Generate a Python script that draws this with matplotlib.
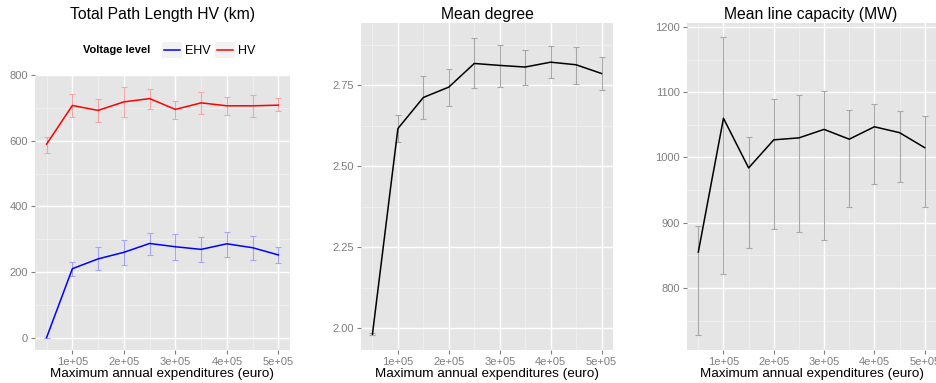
import matplotlib
matplotlib.use("Agg")
import matplotlib.pyplot as plt
from matplotlib.lines import Line2D
from matplotlib.patches import Rectangle
from matplotlib.ticker import FixedLocator, FuncFormatter

plt.rcParams['font.family'] = ['Liberation Sans', 'DejaVu Sans']

# budget levels (euro)
budget = [5e4, 1e5, 1.5e5, 2e5, 2.5e5, 3e5, 3.5e5, 4e5, 4.5e5, 5e5]

# total path length (km)
hv_len = [590, 708, 693, 719, 729, 696, 716, 707, 707, 709]
hv_lo = [564, 674, 658, 674, 697, 668, 683, 680, 674, 690]
hv_hi = [613, 742, 727, 763, 759, 722, 749, 734, 739, 730]
ehv_len = [0, 210, 240, 260, 287, 277, 269, 286, 274, 252]
ehv_lo = [0, 188, 205, 220, 253, 236, 229, 247, 238, 228]
ehv_hi = [0, 231, 277, 299, 319, 317, 308, 322, 309, 276]

# mean degree
deg = [1.981, 2.616, 2.712, 2.744, 2.817, 2.811, 2.806, 2.821, 2.813, 2.786]
deg_lo = [1.978, 2.573, 2.645, 2.685, 2.740, 2.744, 2.752, 2.773, 2.755, 2.735]
deg_hi = [1.983, 2.657, 2.778, 2.801, 2.895, 2.874, 2.858, 2.870, 2.867, 2.836]

# mean line capacity (MW)
cap = [855, 1060, 984, 1027, 1030, 1043, 1028, 1047, 1038, 1015]
cap_lo = [728, 821, 862, 890, 886, 874, 924, 959, 963, 924]
cap_hi = [895, 1184, 1032, 1089, 1095, 1102, 1073, 1082, 1071, 1063]

BG = '#E5E5E5'
MINOR = '#F2F2F2'
TICKC = '#7F7F7F'


class KeyHandler:
    # grey key box with a line through the middle, like ggplot
    def legend_artist(self, legend, orig, fontsize, handlebox):
        x0, y0 = handlebox.xdescent, handlebox.ydescent
        w, h = handlebox.width, handlebox.height
        box = Rectangle((-x0, -y0), w, h, facecolor=MINOR, edgecolor='none',
                        transform=handlebox.get_transform())
        ln = Line2D([-x0 + 0.1 * w, -x0 + 0.9 * w], [-y0 + h / 2] * 2, color=orig.get_color(),
                    lw=orig.get_linewidth(), transform=handlebox.get_transform())
        handlebox.add_artist(box)
        handlebox.add_artist(ln)
        return box


def errs(v, lo, hi):
    return [[a - b for a, b in zip(v, lo)], [c - a for a, c in zip(v, hi)]]


def style(ax, yticks, yminor, ylim):
    ax.set_facecolor(BG)
    for s in ax.spines.values():
        s.set_visible(False)
    ax.set_xlim(2.75e4, 5.225e5)
    ax.set_ylim(*ylim)
    ax.xaxis.set_major_locator(FixedLocator([1e5, 2e5, 3e5, 4e5, 5e5]))
    ax.xaxis.set_minor_locator(FixedLocator([5e4, 1.5e5, 2.5e5, 3.5e5, 4.5e5]))
    ax.xaxis.set_major_formatter(FuncFormatter(lambda v, p: '{:.0e}'.format(v)))
    ax.yaxis.set_major_locator(FixedLocator(yticks))
    ax.yaxis.set_minor_locator(FixedLocator(yminor))
    ax.grid(which='major', color='white', lw=1.0)
    ax.grid(which='minor', color=MINOR, lw=0.5)
    ax.set_axisbelow(True)
    ax.tick_params(which='major', colors=TICKC, labelsize=8, length=3, width=0.8, pad=2)
    ax.tick_params(which='minor', length=0)
    ax.set_xlabel('Maximum annual expenditures (euro)', fontsize=9.7, labelpad=1)


fig = plt.figure(figsize=(9.36, 3.83), dpi=100)
W, H = 936, 383


def add_ax(x0, x1, y0, y1):
    return fig.add_axes([x0 / W, 1 - y1 / H, (x1 - x0) / W, (y1 - y0) / H])


ax1 = add_ax(35, 290, 75, 350)
ax2 = add_ax(361, 613, 23, 350)
ax3 = add_ax(687, 936, 23, 350)

ekw = dict(capsize=2.5, elinewidth=0.8, capthick=0.8, fmt='none')
ax1.errorbar(budget, ehv_len, yerr=errs(ehv_len, ehv_lo, ehv_hi), ecolor='#A6A6F5', **ekw)
ax1.errorbar(budget, hv_len, yerr=errs(hv_len, hv_lo, hv_hi), ecolor='#F5A6A6', **ekw)
l_ehv, = ax1.plot(budget, ehv_len, color='blue', lw=1.1)
l_hv, = ax1.plot(budget, hv_len, color='red', lw=1.1)
style(ax1, [0, 200, 400, 600, 800], [100, 300, 500, 700], (-38, 801))

ax2.errorbar(budget, deg, yerr=errs(deg, deg_lo, deg_hi), ecolor='#A8A8A8', **ekw)
ax2.plot(budget, deg, color='black', lw=1.1)
style(ax2, [2.0, 2.25, 2.5, 2.75], [2.125, 2.375, 2.625, 2.875], (1.932, 2.942))
ax2.yaxis.set_major_formatter(FuncFormatter(lambda v, p: '{:.2f}'.format(v)))

ax3.errorbar(budget, cap, yerr=errs(cap, cap_lo, cap_hi), ecolor='#A8A8A8', **ekw)
ax3.plot(budget, cap, color='black', lw=1.1)
style(ax3, [800, 900, 1000, 1100, 1200], [750, 850, 950, 1050, 1150], (705, 1206))

# titles
fig.text(162 / W, 1 - 15 / H, 'Total Path Length HV (km)', ha='center', va='center', fontsize=11.3)
fig.text(487 / W, 1 - 15 / H, 'Mean degree', ha='center', va='center', fontsize=11.3)
fig.text(811 / W, 1 - 15 / H, 'Mean line capacity (MW)', ha='center', va='center', fontsize=11.3)

# legend
fig.text(83 / W, 1 - 50 / H, 'Voltage level', ha='left', va='center', fontsize=8, fontweight='bold')
fig.legend([l_ehv, l_hv], ['EHV', 'HV'], handler_map={Line2D: KeyHandler()},
           loc='center left', bbox_to_anchor=(156 / W, 1 - 50 / H), ncol=2, frameon=False,
           fontsize=9, handlelength=1.6, handleheight=1.5, handletextpad=0.25,
           columnspacing=0.3, borderpad=0)

fig.savefig('out.png', dpi=100)
